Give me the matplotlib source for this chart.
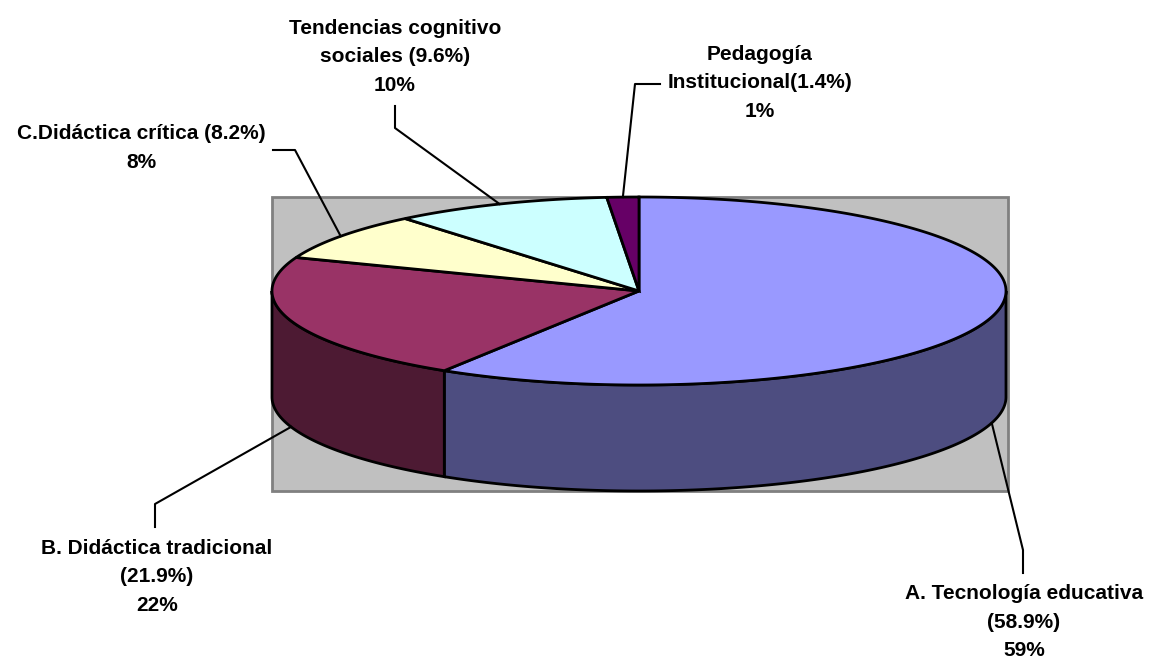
import numpy as np
from matplotlib import pyplot as plt
from matplotlib.patches import Polygon, Rectangle

# share of each approach, clockwise from 12 o'clock
names = ["A. Tecnología educativa\n", "B. Didáctica tradicional\n",
         "C.Didáctica crítica ", "Tendencias cognitivo\nsociales ",
         "Pedagogía\nInstitucional"]
values = [58.9, 21.9, 8.2, 9.6, 1.4]
top_colors = ["#9999FF", "#993366", "#FFFFCC", "#CCFFFF", "#660066"]
side_colors = ["#4D4D80", "#4D1A33", "#80806A", "#6A8080", "#330033"]

# pie geometry in pixels (y grows downward)
cx, cy = 639, 291
a, b = 367, 94
depth = 106

# label centre and leader elbow / end for each slice
label_xy = [(1024, 622), (157, 577), (141, 148), (395, 57), (760, 83)]
elbow = [(1023, 550), (155, 504), (295, 150), (395, 128), (635, 84)]
line_end = [(1023, 573), (155, 527), (273, 150), (395, 106), (660, 84)]


def ellipse(theta, dy=0):
    t = np.radians(theta)
    return np.column_stack([cx + a * np.sin(t), cy - b * np.cos(t) + dy])


fig = plt.figure(figsize=(11.59, 6.66), dpi=100)
ax = fig.add_axes([0, 0, 1, 1])
ax.set_xlim(0, 1159)
ax.set_ylim(666, 0)
ax.axis("off")

ax.add_patch(Rectangle((cx - a, cy - b), 2 * a + 2, 2 * b + depth,
                       facecolor="#C0C0C0", edgecolor="#808080", lw=2, zorder=0))

bounds = np.concatenate([[0], np.cumsum(values)]) / sum(values) * 360

# front walls (only the lower half of the rim is visible)
for i in range(len(values)):
    lo, hi = max(bounds[i], 90), min(bounds[i + 1], 270)
    if lo >= hi:
        continue
    th = np.linspace(lo, hi, 200)
    pts = np.vstack([ellipse(th), ellipse(th[::-1], depth)])
    ax.add_patch(Polygon(pts, closed=True, facecolor=side_colors[i],
                         edgecolor="black", lw=2, zorder=1))

# top faces
for i in range(len(values)):
    th = np.linspace(bounds[i], bounds[i + 1], 300)
    pts = np.vstack([[cx, cy], ellipse(th)])
    ax.add_patch(Polygon(pts, closed=True, facecolor=top_colors[i],
                         edgecolor="black", lw=2, zorder=2))

# labels and leader lines
for i, v in enumerate(values):
    mid = (bounds[i] + bounds[i + 1]) / 2
    front = np.cos(np.radians(mid)) < 0
    ax0, ay0 = ellipse(np.array([mid]), depth if front else 0)[0]
    ex, ey = elbow[i]
    lx, ly = line_end[i]
    ax.plot([ax0, ex, lx], [ay0, ey, ly], color="black", lw=1.5, zorder=3)
    text = f"{names[i]}({v:.1f}%)\n{round(v)}%"
    ax.text(label_xy[i][0], label_xy[i][1], text, ha="center", va="center",
            multialignment="center", fontsize=15, fontweight="bold",
            family="Liberation Sans", linespacing=1.62, zorder=4)

fig.savefig("out.png", dpi=100)
